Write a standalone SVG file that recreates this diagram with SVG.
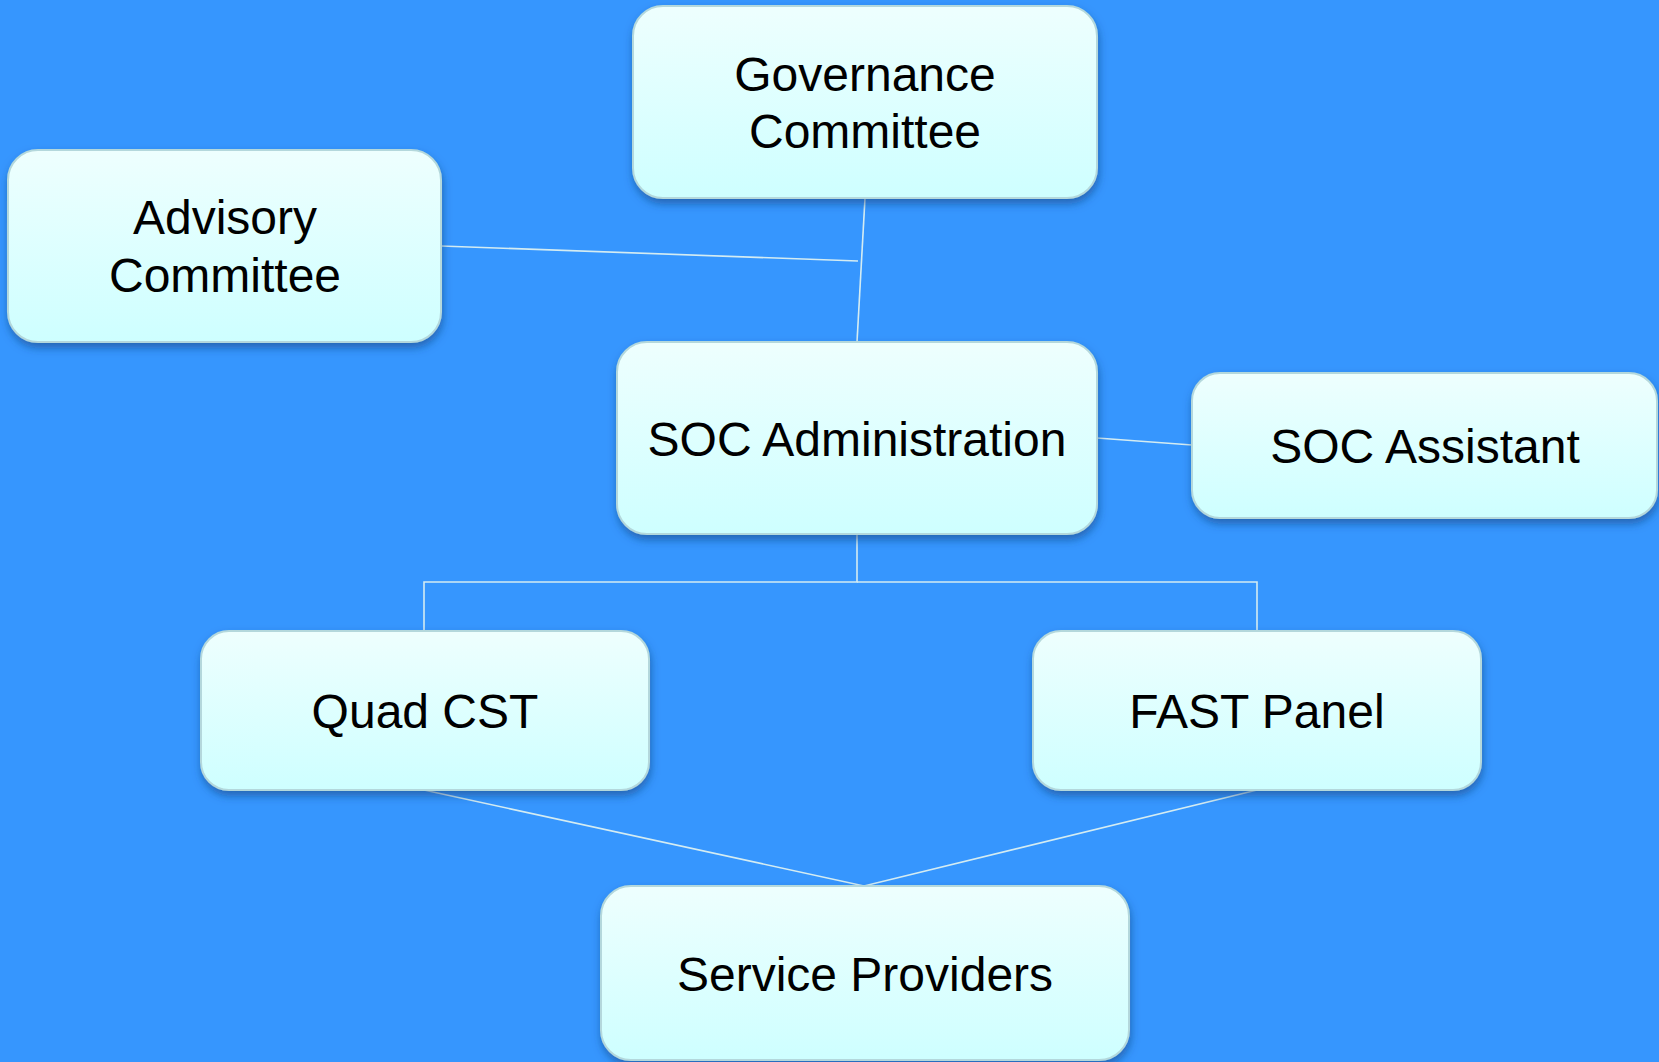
<svg xmlns="http://www.w3.org/2000/svg" width="1659" height="1062" viewBox="0 0 1659 1062">
<style>
.box{fill:url(#g);stroke:#b4d8dc;stroke-width:2;filter:url(#sh)}
.t{font-family:"Liberation Sans",Arial,sans-serif;font-size:48px;fill:#000;text-anchor:middle}
.c{stroke:#d4ecf2;stroke-width:1.6;fill:none}
</style>
<defs>
<linearGradient id="g" x1="0" y1="0" x2="0" y2="1">
<stop offset="0" stop-color="#eefffe"/>
<stop offset="1" stop-color="#ceffff"/>
</linearGradient>
<filter id="sh" x="-10%" y="-10%" width="120%" height="130%">
<feDropShadow dx="1" dy="5" stdDeviation="4" flood-color="#123f7a" flood-opacity="0.55"/>
</filter>
</defs>
<rect width="1659" height="1062" fill="#3696fe"/>
<g id="connectors">
<line class="c" x1="865" y1="198" x2="857" y2="342"/>
<line class="c" x1="441" y1="246" x2="858" y2="261"/>
<line class="c" x1="1097" y1="438" x2="1192" y2="445"/>
<polyline class="c" points="857,534 857,582 424,582 424,631"/>
<polyline class="c" points="857,582 1257,582 1257,631"/>
<polyline class="c" points="424,790 864,886 1257,790"/>
</g>
<g id="governance">
<rect class="box" x="633" y="6" width="464" height="192" rx="30"/>
<text class="t" x="865" y="91">Governance</text>
<text class="t" x="865" y="148">Committee</text>
</g>
<g id="advisory">
<rect class="box" x="8" y="150" width="433" height="192" rx="30"/>
<text class="t" x="225" y="234">Advisory</text>
<text class="t" x="225" y="292">Committee</text>
</g>
<g id="soc-admin">
<rect class="box" x="617" y="342" width="480" height="192" rx="30"/>
<text class="t" x="857" y="456">SOC Administration</text>
</g>
<g id="soc-assistant">
<rect class="box" x="1192" y="373" width="465" height="145" rx="28"/>
<text class="t" x="1425" y="463">SOC Assistant</text>
</g>
<g id="quad-cst">
<rect class="box" x="201" y="631" width="448" height="159" rx="28"/>
<text class="t" x="425" y="728">Quad CST</text>
</g>
<g id="fast-panel">
<rect class="box" x="1033" y="631" width="448" height="159" rx="28"/>
<text class="t" x="1257" y="728">FAST Panel</text>
</g>
<g id="service-providers">
<rect class="box" x="601" y="886" width="528" height="174" rx="30"/>
<text class="t" x="865" y="991">Service Providers</text>
</g>
</svg>
